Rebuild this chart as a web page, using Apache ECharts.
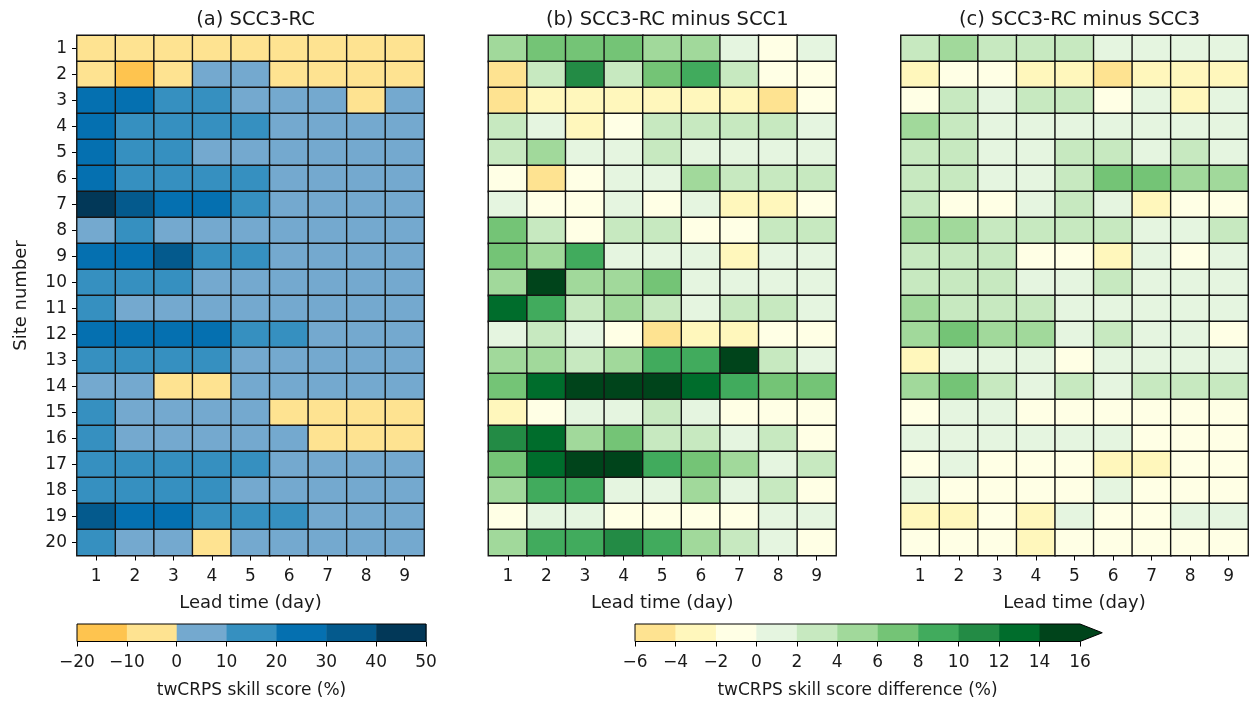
<!DOCTYPE html>
<html>
<head>
<meta charset="utf-8">
<script src="https://cdn.jsdelivr.net/npm/echarts@6/dist/echarts.min.js"></script>
<style>
  html, body { margin: 0; padding: 0; background: #fff; }
  #chart { width: 1250px; height: 702px; }
</style>
</head>
<body>
<div id="chart"></div>
<script>
// Lead times (columns) and site numbers (rows)
const leadDays = ['1', '2', '3', '4', '5', '6', '7', '8', '9'];
const sites = ['1','2','3','4','5','6','7','8','9','10','11','12','13','14','15','16','17','18','19','20'];

// Colour classes for the skill score (%) and the skill score difference (%)
const skillBins = [-20, -10, 0, 10, 20, 30, 40, 50];
const skillColors = ['#fec44f', '#fee391', '#74a9cf', '#3690c0', '#0570b0', '#045a8d', '#023858'];
const diffBins = [-6, -4, -2, 0, 2, 4, 6, 8, 10, 12, 14, 16];
const diffColors = ['#fee391', '#fff7bc', '#ffffe5', '#e5f5e0', '#c7e9c0', '#a1d99b', '#74c476', '#41ab5d', '#238b45', '#006d2c', '#00441b'];
const diffOverColor = '#00441b';

// (a) twCRPS skill score of SCC3-RC, one row per site, one value per lead day
const skillSCC3RC = [
  [-4, -7, -5, -3, -4, -6, -5, -4, -3],
  [-6, -13, -4, 3, 2, -3, -5, -6, -7],
  [24, 21, 15, 12, 6, 4, 3, -2, 2],
  [23, 16, 14, 13, 11, 7, 5, 4, 3],
  [25, 17, 14, 8, 6, 5, 4, 3, 3],
  [26, 18, 15, 12, 11, 7, 5, 4, 3],
  [44, 33, 26, 22, 14, 8, 6, 4, 3],
  [8, 12, 7, 6, 5, 4, 3, 3, 2],
  [27, 24, 32, 16, 13, 8, 6, 4, 3],
  [16, 13, 11, 8, 6, 5, 4, 3, 2],
  [14, 9, 7, 6, 5, 4, 3, 3, 2],
  [26, 24, 23, 21, 15, 12, 8, 6, 4],
  [16, 15, 13, 11, 7, 5, 4, 3, 2],
  [6, 4, -3, -2, 3, 3, 2, 2, 1],
  [13, 6, 5, 4, 2, -1, -2, -3, -3],
  [14, 7, 5, 4, 3, 1, -1, -2, -3],
  [17, 15, 14, 13, 11, 7, 5, 4, 3],
  [16, 14, 13, 12, 8, 6, 5, 4, 3],
  [33, 27, 24, 18, 15, 11, 7, 5, 4],
  [14, 7, 5, -2, 4, 3, 2, 2, 1]
];

// (b) SCC3-RC minus SCC1
const diffVsSCC1 = [
  [5.2, 7.1, 6.8, 6.4, 4.6, 4.3, 1.2, -0.8, 0.9],
  [-4.5, 2.6, 11.3, 2.8, 6.5, 8.7, 2.4, -0.6, -0.4],
  [-4.3, -2.8, -2.5, -2.6, -2.9, -2.4, -3.1, -4.6, -0.7],
  [3.1, 1.2, -2.7, -0.5, 2.6, 2.9, 2.4, 2.2, 1.3],
  [3.4, 4.8, 1.1, 0.9, 2.5, 1.4, 1.0, 0.8, 0.7],
  [-0.6, -4.8, -0.9, 0.6, 1.3, 4.4, 3.2, 2.7, 2.3],
  [0.8, -1.1, -0.7, 1.2, -0.5, 0.9, -2.6, -3.3, -0.8],
  [6.6, 3.3, -0.9, 2.8, 2.5, -0.4, -0.6, 2.2, 2.6],
  [7.3, 4.7, 8.6, 1.4, 1.1, 0.8, -2.7, 1.0, 0.6],
  [5.5, 15.4, 4.9, 5.1, 6.9, 1.3, 1.1, 0.7, 0.5],
  [12.8, 9.1, 3.4, 4.6, 2.9, 1.2, 2.4, 2.1, 1.0],
  [0.9, 2.8, 1.1, -0.8, -4.4, -2.5, -3.2, -0.9, -0.6],
  [5.1, 4.7, 3.3, 4.5, 8.8, 9.3, 14.6, 2.7, 1.2],
  [7.4, 12.6, 15.8, 16.9, 15.2, 13.1, 9.4, 6.8, 6.3],
  [-2.3, -0.8, 1.0, 1.3, 2.5, 1.1, -0.5, -0.7, -0.3],
  [10.8, 13.4, 5.3, 6.7, 3.1, 2.6, 1.2, 2.3, -0.9],
  [7.2, 13.5, 16.3, 15.6, 9.1, 7.0, 5.4, 1.4, 2.8],
  [5.6, 8.9, 9.6, 1.3, 0.8, 4.7, 1.1, 2.4, -0.5],
  [-0.9, 0.7, 1.1, -0.6, -1.2, -0.4, -0.8, 1.3, 0.9],
  [4.8, 9.2, 8.5, 10.6, 9.0, 4.4, 3.3, 1.5, -0.7]
];

// (c) SCC3-RC minus SCC3
const diffVsSCC3 = [
  [3.2, 4.4, 2.8, 2.6, 2.9, 1.3, 0.9, 1.1, 0.8],
  [-2.4, -1.3, -0.9, -2.6, -2.8, -4.3, -2.5, -2.9, -2.2],
  [-1.1, 2.6, 1.2, 2.3, 2.7, -0.6, 0.9, -2.7, 1.0],
  [4.6, 2.9, 1.4, 1.1, 0.9, 1.2, 0.8, 1.0, 0.7],
  [3.1, 2.7, 1.3, 0.9, 2.4, 2.2, 1.1, 2.5, 0.8],
  [2.8, 2.5, 1.2, 1.0, 2.3, 6.6, 7.1, 5.2, 4.8],
  [3.0, -0.7, -0.9, 1.1, 2.6, 1.3, -2.8, -0.6, -0.5],
  [4.7, 4.9, 3.1, 2.8, 2.6, 2.4, 1.2, 1.0, 2.2],
  [3.3, 2.9, 2.7, -0.8, -0.6, -2.4, 1.1, -0.7, 0.9],
  [3.0, 2.8, 2.5, 1.3, 1.0, 2.4, 1.1, 0.8, 0.9],
  [4.5, 3.3, 2.9, 2.6, 1.2, 1.0, 1.1, 0.8, 0.7],
  [5.1, 6.4, 4.8, 4.6, 1.3, 2.7, 1.2, 0.9, -0.6],
  [-2.5, 1.2, 1.0, 0.9, -0.7, 1.1, 0.8, 1.3, 0.9],
  [4.9, 6.3, 2.8, 1.3, 2.6, 1.1, 2.4, 2.7, 2.3],
  [-0.8, 1.1, 1.3, -0.6, -0.9, -0.5, -0.7, -0.4, -0.8],
  [1.2, 0.9, 1.1, 0.8, 1.0, 0.7, -0.6, -0.8, -0.5],
  [-0.7, 1.0, -0.9, -0.6, -0.8, -2.4, -2.6, -0.5, -0.7],
  [1.1, -0.6, -0.8, -0.5, -0.9, 1.0, -0.7, -0.4, -0.6],
  [-2.6, -2.3, -0.8, -2.7, 1.2, -0.6, -0.9, 1.1, 0.9],
  [-0.5, -0.7, -0.9, -2.4, -0.6, -0.8, -0.5, -0.7, -0.4]
];

const panelTitles = ['(a) SCC3-RC', '(b) SCC3-RC minus SCC1', '(c) SCC3-RC minus SCC3'];
const skillLabel = 'twCRPS skill score (%)';
const diffLabel = 'twCRPS skill score difference (%)';

// ---------- helpers ----------
const FONT = 'DejaVu Sans';
const TXT = '#1a1a1a';
const FS = 17;
const NAME_FS = 18;
const TITLE_FS = 19.5;

function toCells(matrix) {
  const out = [];
  matrix.forEach((row, r) => row.forEach((v, c) => out.push([c, r, v])));
  return out;
}
function binPieces(bins, colors) {
  return colors.map((col, i) => ({ gte: bins[i], lt: bins[i + 1], color: col }));
}
function binSegments(bins) {
  const out = [];
  for (let i = 0; i < bins.length - 1; i++) out.push([bins[i], bins[i + 1], i]);
  return out;
}
const minus = v => String(v).replace('-', '\u2212');

const panelGrids = [
  { left: 77, top: 35.5, width: 347, height: 520 },
  { left: 488.5, top: 35.5, width: 347.5, height: 520 },
  { left: 901, top: 35.5, width: 347, height: 520 }
];
const barGrids = [
  { left: 77, top: 624, width: 349, height: 17.5 },
  { left: 635, top: 624, width: 445, height: 17.5 }
];

const xAxes = [], yAxes = [], series = [], titles = [];
const panelData = [skillSCC3RC, diffVsSCC1, diffVsSCC3];

panelGrids.forEach((g, i) => {
  xAxes.push({
    type: 'category', gridIndex: i, data: leadDays, position: 'bottom',
    name: 'Lead time (day)', nameLocation: 'middle', nameGap: 39,
    nameTextStyle: { fontFamily: FONT, fontSize: NAME_FS, color: TXT },
    axisLine: { show: false },
    axisTick: { show: true, alignWithLabel: true, length: 5, lineStyle: { color: '#000' } },
    axisLabel: { fontFamily: FONT, fontSize: FS, color: TXT, margin: 13 },
    splitLine: { show: false }
  });
  yAxes.push({
    type: 'category', gridIndex: i, data: sites, inverse: true,
    name: i === 0 ? 'Site number' : '', nameLocation: 'middle', nameGap: 47, nameRotate: 90,
    nameTextStyle: { fontFamily: FONT, fontSize: NAME_FS, color: TXT },
    axisLine: { show: false },
    axisTick: { show: i === 0, alignWithLabel: true, length: 5, lineStyle: { color: '#000' } },
    axisLabel: { show: i === 0, fontFamily: FONT, fontSize: FS, color: TXT, margin: 10 },
    splitLine: { show: false }
  });
  series.push({
    type: 'heatmap', xAxisIndex: i, yAxisIndex: i,
    data: toCells(panelData[i]),
    itemStyle: { borderColor: '#151515', borderWidth: 1.4 },
    emphasis: { disabled: true },
    animation: false
  });
  titles.push({
    text: panelTitles[i], left: g.left + g.width / 2, top: 5, textAlign: 'center',
    textStyle: { fontFamily: FONT, fontSize: TITLE_FS, fontWeight: 'normal', color: TXT }
  });
});

// colour bar axes
const barScales = [
  { bins: skillBins, colors: skillColors, label: skillLabel, extend: false },
  { bins: diffBins, colors: diffColors, label: diffLabel, extend: true }
];
barScales.forEach((b, k) => {
  const idx = 3 + k;
  const lo = b.bins[0], hi = b.bins[b.bins.length - 1];
  xAxes.push({
    type: 'value', gridIndex: idx, min: lo, max: hi, interval: b.bins[1] - b.bins[0],
    name: b.label, nameLocation: 'middle', nameGap: 41,
    nameTextStyle: { fontFamily: FONT, fontSize: FS, color: TXT },
    axisLine: { show: false },
    axisTick: { show: true, length: 5, lineStyle: { color: '#000' } },
    axisLabel: { fontFamily: FONT, fontSize: FS, color: TXT, margin: 13, formatter: v => minus(v) },
    splitLine: { show: false }
  });
  yAxes.push({ type: 'value', gridIndex: idx, min: 0, max: 1, show: false });

  // filled classes
  series.push({
    type: 'custom', xAxisIndex: idx, yAxisIndex: idx,
    data: binSegments(b.bins), silent: true, animation: false,
    renderItem: (params, api) => {
      const p0 = api.coord([api.value(0), 0]);
      const p1 = api.coord([api.value(1), 1]);
      return {
        type: 'rect',
        shape: { x: p0[0], y: p1[1], width: p1[0] - p0[0] + 0.5, height: p0[1] - p1[1] },
        style: { fill: b.colors[api.value(2)] }
      };
    }
  });
  // outline (with the extension arrow for values beyond the last class)
  series.push({
    type: 'custom', xAxisIndex: idx, yAxisIndex: idx, clip: false,
    data: [[lo, hi]], silent: true, animation: false, z: 3,
    renderItem: (params, api) => {
      const a0 = api.coord([api.value(0), 0]);
      const a1 = api.coord([api.value(1), 1]);
      const x0 = a0[0], yb = a0[1], x1 = a1[0], yt = a1[1];
      const children = [];
      let pts;
      if (b.extend) {
        const tip = x1 + 0.05 * (x1 - x0);
        const tri = [[x1, yt], [tip, (yt + yb) / 2], [x1, yb]];
        children.push({ type: 'polygon', shape: { points: tri }, style: { fill: diffOverColor } });
        pts = [[x0, yb], [x0, yt], [x1, yt], [tip, (yt + yb) / 2], [x1, yb]];
      } else {
        pts = [[x0, yb], [x0, yt], [x1, yt], [x1, yb]];
      }
      children.push({
        type: 'polygon', shape: { points: pts },
        style: { fill: 'none', stroke: '#000', lineWidth: 1 }
      });
      return { type: 'group', children };
    }
  });
});

const chart = echarts.init(document.getElementById('chart'), null, { renderer: 'canvas' });
chart.setOption({
  backgroundColor: '#ffffff',
  animation: false,
  title: titles,
  grid: panelGrids.concat(barGrids),
  xAxis: xAxes,
  yAxis: yAxes,
  visualMap: [
    { type: 'piecewise', show: false, seriesIndex: 0, dimension: 2, pieces: binPieces(skillBins, skillColors) },
    {
      type: 'piecewise', show: false, seriesIndex: [1, 2], dimension: 2,
      pieces: binPieces(diffBins, diffColors).concat([{ gte: diffBins[diffBins.length - 1], color: diffOverColor }])
    }
  ],
  series: series
});
</script>
</body>
</html>
